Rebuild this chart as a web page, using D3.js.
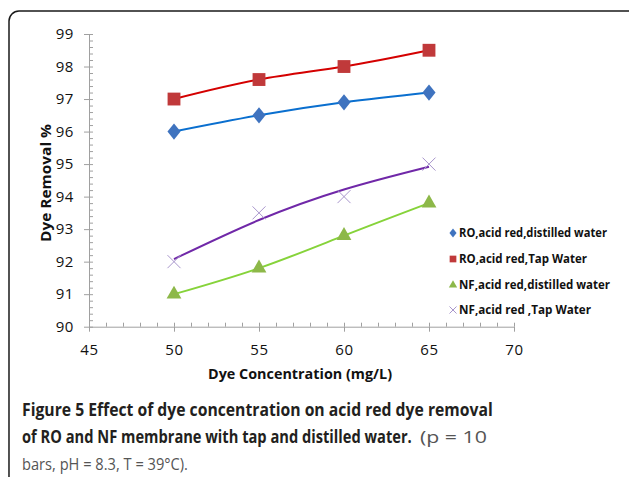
<!DOCTYPE html>
<html><head><meta charset="utf-8">
<script src="https://cdn.jsdelivr.net/npm/d3@7"></script>
<style>body{margin:0;background:#fff}svg{display:block}</style>
</head><body>
<svg id="c" width="629" height="477"></svg>
<script>
const concentrations = [50, 55, 60, 65];
const roDistilled = [96.0, 96.5, 96.9, 97.2];
const roTap = [97.0, 97.6, 98.0, 98.5];
const nfDistilled = [91.0, 91.8, 92.8, 93.8];
const nfTap = [92.0, 93.5, 94.0, 95.0];
const nfTapTrend = [92.08, 93.28, 94.22, 94.92];
const xTicks = [45, 50, 55, 60, 65, 70];
const yTicks = [90, 91, 92, 93, 94, 95, 96, 97, 98, 99];
const seriesNames = ["RO,acid red,distilled water", "RO,acid red,Tap Water", "NF,acid red,distilled water", "NF,acid red ,Tap Water"];
const xTitle = "Dye Concentration (mg/L)";
const yTitle = "Dye Removal %";
const captionBold1 = "Figure 5 Effect of dye concentration on acid red dye removal";
const captionBold2 = "of RO and NF membrane with tap and distilled water.";
const captionNormal2 = "(p = 10";
const captionNormal3 = "bars, pH = 8.3, T = 39°C).";

const svg = d3.select("#c");
const font = "'Open Sans', 'DejaVu Sans', sans-serif";

// frame
svg.append("rect").attr("x", 9).attr("y", 11).attr("width", 640).attr("height", 500)
  .attr("rx", 10).attr("fill", "none").attr("stroke", "#1a1a1a").attr("stroke-width", 1.5);

const x = d3.scaleLinear().domain([45, 70]).range([89, 514]);
const y = d3.scaleLinear().domain([90, 99]).range([326.7, 34]);
const axisColor = "#a0a0a0";

// minor ticks
const gxm = svg.append("g").attr("transform", `translate(0,${y(90)})`)
  .call(d3.axisBottom(x).tickValues(d3.range(45, 71, 1)).tickSize(-4).tickFormat(""));
const gym = svg.append("g").attr("transform", `translate(${x(45)},0)`)
  .call(d3.axisLeft(y).tickValues(d3.range(0, 46).map(i => 90 + i * 0.2)).tickSize(-4).tickFormat(""));
[gxm, gym].forEach(g => { g.select(".domain").remove(); g.selectAll("line").attr("stroke", axisColor); });

// major axes
const gx = svg.append("g").attr("transform", `translate(0,${y(90)})`)
  .call(d3.axisBottom(x).tickValues(xTicks).tickSize(5).tickSizeOuter(0).tickPadding(13));
const gy = svg.append("g").attr("transform", `translate(${x(45)},0)`)
  .call(d3.axisLeft(y).tickValues(yTicks).tickSize(5).tickSizeOuter(0).tickPadding(10));
[gx, gy].forEach(g => {
  g.select(".domain").attr("stroke", axisColor);
  g.selectAll("line").attr("stroke", axisColor);
  g.selectAll("text").attr("font-family", font).attr("font-size", 15).attr("letter-spacing", 0.6).attr("fill", "#111");
});

// fit a text horizontally to a width by scaling it
function fitText(parent, tx, ty, width, str, attrs) {
  const t = parent.append("text").attr("x", 0).attr("y", 0).text(str);
  Object.entries(attrs).forEach(([k, v]) => t.attr(k, v));
  const w = t.node().getComputedTextLength();
  t.attr("transform", `translate(${tx},${ty}) scale(${width / w},1)`);
  return t;
}

// axis titles
svg.append("text").attr("x", 300).attr("y", 379).attr("text-anchor", "middle")
  .attr("font-family", font).attr("font-weight", "bold").attr("font-size", 14).attr("fill", "#111")
  .attr("textLength", 184).attr("lengthAdjust", "spacingAndGlyphs").text(xTitle);
svg.append("text").attr("transform", "translate(51,183) rotate(-90)").attr("text-anchor", "middle")
  .attr("font-family", font).attr("font-weight", "bold").attr("font-size", 14).attr("fill", "#111")
  .attr("textLength", 118).attr("lengthAdjust", "spacingAndGlyphs").text(yTitle);

const series = [
  { name: seriesNames[0], vals: roDistilled, line: roDistilled, lineColor: "#0a6fcf", markColor: "#3f73bf", sym: d3.symbolDiamond, size: 95, lsize: 28 },
  { name: seriesNames[1], vals: roTap, line: roTap, lineColor: "#d40000", markColor: "#c0393a", sym: d3.symbolSquare, size: 165, lsize: 45 },
  { name: seriesNames[2], vals: nfDistilled, line: nfDistilled, lineColor: "#86d33a", markColor: "#8db849", sym: d3.symbolTriangle, size: 95, lsize: 30 },
  { name: seriesNames[3], vals: nfTap, line: nfTapTrend, lineColor: "#7028a8", markColor: "#a896cc", sym: "x", size: 6.5, lsize: 3.5 }
];

const lineGen = d3.line().x((d, i) => x(concentrations[i])).y(d => y(d)).curve(d3.curveNatural);

function drawMark(g, s, cx, cy, big) {
  if (s.sym === "x") {
    const r = big ? s.size : s.lsize;
    g.append("path").attr("d", `M${cx - r},${cy - r}L${cx + r},${cy + r}M${cx - r},${cy + r}L${cx + r},${cy - r}`)
      .attr("stroke", s.markColor).attr("stroke-width", 1).attr("fill", "none");
  } else {
    let sz = big ? s.size : s.lsize;
    let p = d3.symbol().type(s.sym).size(sz)();
    let tr = `translate(${cx},${cy})`;
    if (s.sym === d3.symbolDiamond) tr += " scale(1.25,0.9)";
    g.append("path").attr("d", p).attr("transform", tr).attr("fill", s.markColor);
  }
}

series.forEach(s => {
  svg.append("path").datum(s.line).attr("d", lineGen).attr("fill", "none")
    .attr("stroke", s.lineColor).attr("stroke-width", 2);
});
series.forEach(s => {
  const g = svg.append("g");
  s.vals.forEach((v, i) => drawMark(g, s, x(concentrations[i]), y(v), true));
});

// legend
const legY = [233, 259, 285, 310];
const legW = [148, 128, 151, 132];
series.forEach((s, i) => {
  const g = svg.append("g");
  drawMark(g, s, 453, legY[i], false);
  g.append("text").attr("x", 459).attr("y", legY[i] + 4).attr("font-family", font)
    .attr("font-weight", "bold").attr("font-size", 11.5).attr("fill", "#111")
    .attr("textLength", legW[i]).attr("lengthAdjust", "spacingAndGlyphs").text(s.name);
});

// caption
const cap = svg.append("g").attr("font-family", font).attr("font-size", 18);
fitText(cap, 22, 416, 471, captionBold1, { "font-weight": "bold", fill: "#231f20" });
fitText(cap, 22, 443, 390, captionBold2, { "font-weight": "bold", fill: "#231f20" });
fitText(cap, 420, 443, 67, captionNormal2, { fill: "#555", "font-size": 17 });
fitText(cap, 22, 470, 166, captionNormal3, { fill: "#555", "font-size": 17 });
</script>
</body></html>
